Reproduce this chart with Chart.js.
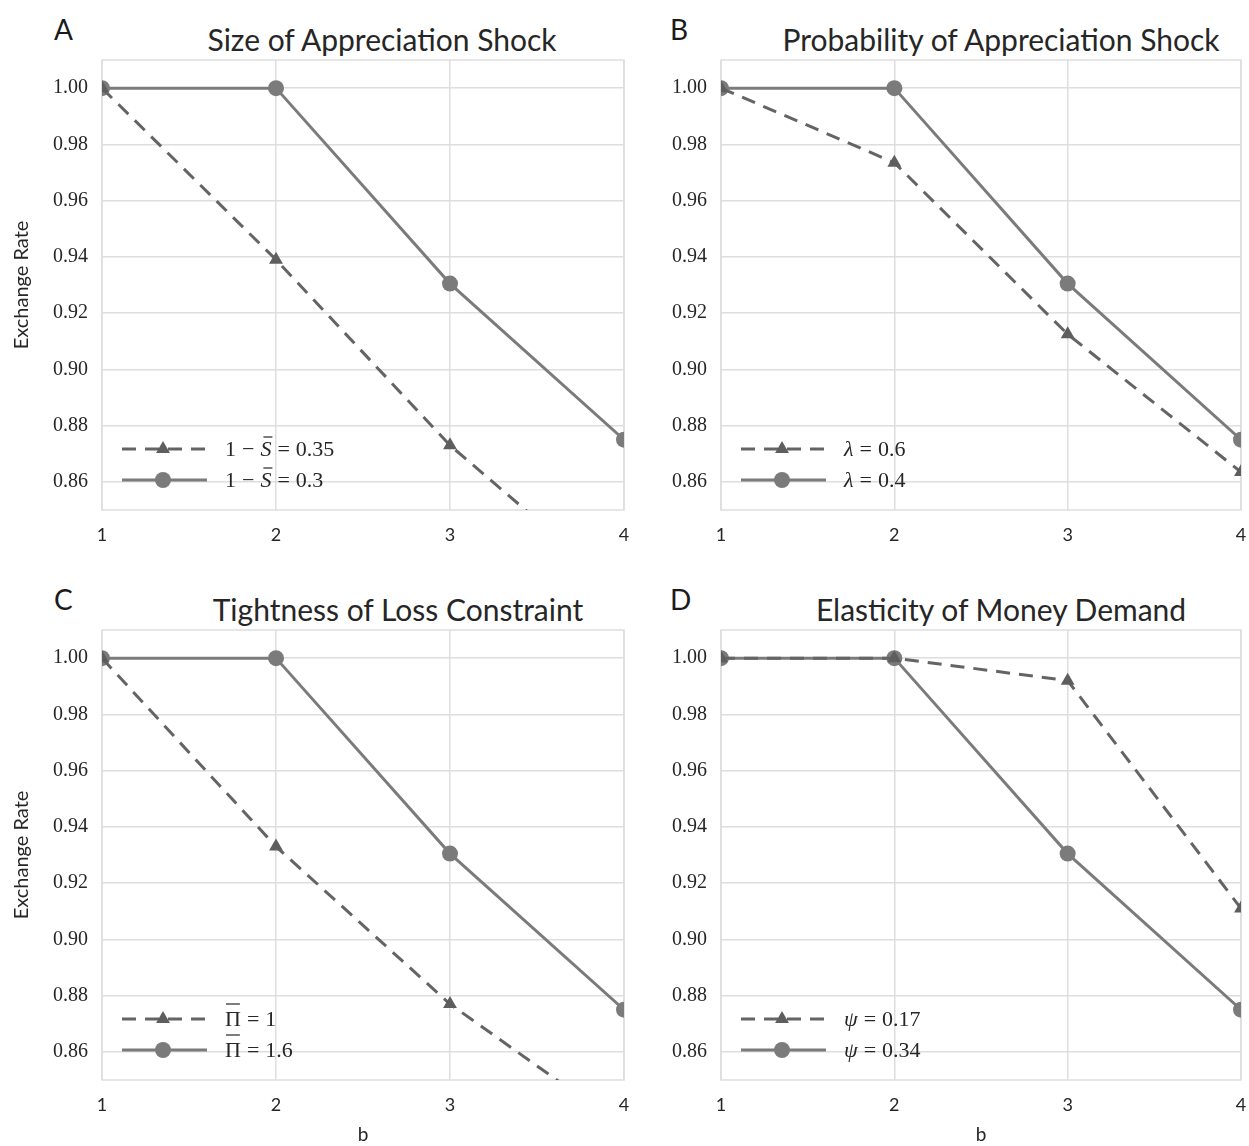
<!DOCTYPE html>
<html>
<head>
<meta charset="utf-8">
<script src="https://cdn.jsdelivr.net/npm/chart.js@4.4.1/dist/chart.umd.min.js"></script>
<style>
  body { margin: 0; background: #fff; overflow: hidden; }
  #fig { position: relative; width: 1249px; height: 1146px; }
  .box { position: absolute; }
  .letter { position: absolute; font-family: Lato, sans-serif; font-size: 28px; line-height: 28px; color: #1a1a1a; }
  .ttl { position: absolute; width: 600px; text-align: center; font-family: Lato, sans-serif; font-size: 30px; line-height: 30px; color: #262626; }
</style>
</head>
<body>
<div id="fig">
  <div class="letter" style="left:54px;top:15px">A</div>
  <div class="letter" style="left:670px;top:15px">B</div>
  <div class="letter" style="left:54px;top:585px">C</div>
  <div class="letter" style="left:670px;top:585px">D</div>
  <div class="ttl" style="left:82px;top:24px">Size of Appreciation Shock</div>
  <div class="ttl" style="left:701px;top:24px">Probability of Appreciation Shock</div>
  <div class="ttl" style="left:98px;top:594px">Tightness of Loss Constraint</div>
  <div class="ttl" style="left:701px;top:594px">Elasticity of Money Demand</div>
  <div class="box" style="left:0;top:0"><canvas id="cA" width="634" height="560"></canvas></div>
  <div class="box" style="left:640px;top:0"><canvas id="cB" width="609" height="560"></canvas></div>
  <div class="box" style="left:0;top:570px"><canvas id="cC" width="634" height="576"></canvas></div>
  <div class="box" style="left:640px;top:570px"><canvas id="cD" width="609" height="576"></canvas></div>
</div>
<script>
const bValues = [1, 2, 3, 4];
const yTicks = [0.86, 0.88, 0.90, 0.92, 0.94, 0.96, 0.98, 1.00];

const sizeDashed = [1.000, 0.939, 0.873, 0.820];
const sizeSolid = [1.000, 1.000, 0.9305, 0.875];
const probDashed = [1.000, 0.9735, 0.9125, 0.8635];
const probSolid = [1.000, 1.000, 0.9305, 0.875];
const lossDashed = [1.000, 0.933, 0.877, 0.833];
const lossSolid = [1.000, 1.000, 0.9305, 0.875];
const elastDashed = [1.000, 1.000, 0.992, 0.911];
const elastSolid = [1.000, 1.000, 0.9305, 0.875];

const gridColor = '#dedede';
const dashColor = '#646464';
const solidColor = '#7b7b7b';
const textColor = '#262626';

// frame round the plot area, like the axes spines
const framePlugin = {
  id: 'frame',
  beforeDatasetsDraw(chart) {
    const a = chart.chartArea, ctx = chart.ctx;
    ctx.save();
    ctx.strokeStyle = gridColor;
    ctx.lineWidth = 1.5;
    ctx.strokeRect(a.left, a.top, a.right - a.left, a.bottom - a.top);
    ctx.restore();
  }
};

// label text in math style: letters italic, spaced operators, macron as a bar
function drawRich(ctx, text, x, y) {
  const chars = Array.from(text);
  let cx = x;
  for (let i = 0; i < chars.length; i++) {
    const ch = chars[i];
    if (ch === '\u0304') continue;
    if (ch === ' ') { cx += 6; continue; }
    const italic = /[A-Za-z\u03bb\u03c8]/.test(ch);
    ctx.font = (italic ? 'italic ' : '') + '22px "Liberation Serif", serif';
    const w = ctx.measureText(ch).width;
    ctx.fillText(ch, cx, y);
    if (chars[i + 1] === '\u0304') {
      ctx.save();
      ctx.strokeStyle = textColor;
      ctx.lineWidth = 1.2;
      ctx.beginPath();
      const off = italic ? 2 : 0;
      const by = italic ? y - 13 : y - 16;
      ctx.moveTo(cx + 1 + off, by);
      ctx.lineTo(cx + w - 1 + off, by);
      ctx.stroke();
      ctx.restore();
    }
    cx += w;
  }
}

const legendPlugin = {
  id: 'innerLegend',
  afterDatasetsDraw(chart) {
    const a = chart.chartArea, ctx = chart.ctx;
    const rows = [a.bottom - 61, a.bottom - 30];
    ctx.save();
    chart.data.datasets.forEach((ds, i) => {
      const y = rows[i];
      const x0 = a.left + 20, x1 = a.left + 105, xm = a.left + 61;
      ctx.strokeStyle = ds.borderColor;
      ctx.lineWidth = ds.borderWidth;
      ctx.setLineDash(ds.borderDash || []);
      ctx.beginPath();
      ctx.moveTo(x0, y);
      ctx.lineTo(x1, y);
      ctx.stroke();
      ctx.setLineDash([]);
      ctx.fillStyle = ds.pointBackgroundColor;
      Chart.helpers.drawPoint(ctx, { pointStyle: ds.pointStyle, radius: ds.pointRadius, borderWidth: 0 }, xm, y);
      ctx.fillStyle = textColor;
      ctx.textBaseline = 'middle';
      drawRich(ctx, ds.label, a.left + 123, y + 1);
    });
    ctx.restore();
  }
};

function makePanel(id, dashed, solid, dashedLabel, solidLabel, leftPanel, bottomPanel) {
  new Chart(document.getElementById(id), {
    type: 'line',
    data: {
      labels: bValues,
      datasets: [{
        label: dashedLabel,
        data: dashed,
        borderColor: dashColor,
        borderWidth: 3,
        borderDash: [14, 9],
        pointStyle: 'triangle',
        pointRadius: 8,
        pointBackgroundColor: '#5e5e5e',
        pointBorderWidth: 0,
        clip: 0
      }, {
        label: solidLabel,
        data: solid,
        borderColor: solidColor,
        borderWidth: 3,
        pointStyle: 'circle',
        pointRadius: 8,
        pointBackgroundColor: solidColor,
        pointBorderWidth: 0,
        clip: 0
      }]
    },
    options: {
      responsive: false,
      animation: false,
      layout: { padding: { top: 60, right: leftPanel ? 10 : 8, bottom: 0, left: 0 } },
      plugins: { legend: { display: false }, tooltip: { enabled: false } },
      scales: {
        x: {
          type: 'category',
          offset: false,
          grid: { color: gridColor, lineWidth: 1.5, drawTicks: false },
          border: { display: false },
          ticks: { color: textColor, padding: 14, font: { family: 'Lato', size: 18 } },
          title: { display: bottomPanel, text: 'b', color: textColor, padding: { top: 0, bottom: 0 }, font: { family: 'Lato', size: 19 } },
          afterFit(scale) {
            scale.height = bottomPanel ? 66 : 50;
            scale.paddingLeft = 0;
            scale.paddingRight = 0;
          }
        },
        y: {
          min: 0.85,
          max: 1.01,
          grid: { color: gridColor, lineWidth: 1.5, drawTicks: false },
          border: { display: false },
          ticks: {
            color: textColor, padding: 14,
            font: { family: 'Liberation Serif', size: 20 },
            callback: v => v.toFixed(2)
          },
          afterBuildTicks(scale) { scale.ticks = yTicks.map(v => ({ value: v })); },
          title: { display: leftPanel, text: 'Exchange Rate', color: textColor, padding: { top: 10, bottom: 0 }, font: { family: 'Lato', size: 20 } },
          afterFit(scale) {
            scale.width = leftPanel ? 102 : 81;
            scale.paddingTop = 0;
            scale.paddingBottom = 0;
          }
        }
      }
    },
    plugins: [framePlugin, legendPlugin]
  });
}

makePanel('cA', sizeDashed, sizeSolid, '1 \u2212 S\u0304 = 0.35', '1 \u2212 S\u0304 = 0.3', true, false);
makePanel('cB', probDashed, probSolid, '\u03bb = 0.6', '\u03bb = 0.4', false, false);
makePanel('cC', lossDashed, lossSolid, '\u03a0\u0304 = 1', '\u03a0\u0304 = 1.6', true, true);
makePanel('cD', elastDashed, elastSolid, '\u03c8 = 0.17', '\u03c8 = 0.34', false, true);
</script>
</body>
</html>
